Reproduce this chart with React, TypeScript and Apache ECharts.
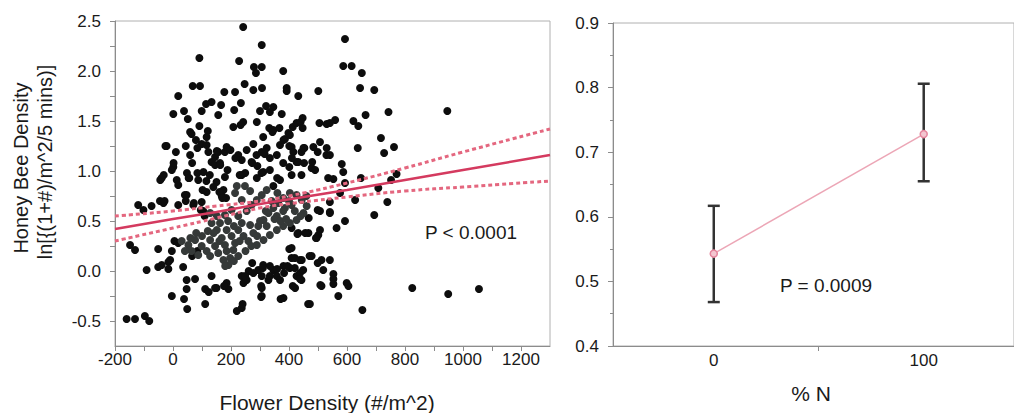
import React, { useEffect, useRef } from "react";
import * as echarts from "echarts";

const FONT = '"Liberation Sans", Arial, Helvetica, sans-serif';
const TXT = "#1a1a1a";
const AX = "#8c8c8c";

// ---------- left panel: Flower density vs honey bee density ----------
const flowerTickLabels = [-200, 0, 200, 400, 600, 800, 1000, 1200];
const flowerTicks = [-200, -100, 0, 100, 200, 300, 400, 500, 600, 700, 800, 900, 1000, 1100, 1200];
const beeTickLabels = [-0.5, 0, 0.5, 1, 1.5, 2, 2.5];
const beeTicks = [-0.5, -0.25, 0, 0.25, 0.5, 0.75, 1, 1.25, 1.5, 1.75, 2, 2.25, 2.5];

const blackPoints: number[][] = [
  [242, 2.44], [306, 2.26], [91, 2.13], [228, 2.1], [279, 2.04], [306, 2.04], [286, 1.98], [380, 2.0],
  [68, 1.85], [93, 1.85], [247, 1.87], [277, 1.81], [307, 1.83], [392, 1.83], [392, 1.8], [501, 1.8],
  [18, 1.75], [177, 1.79], [214, 1.79], [234, 1.68], [133, 1.69], [114, 1.67], [166, 1.66], [432, 1.75],
  [1, 1.57], [38, 1.6], [51, 1.52], [99, 1.6], [156, 1.56], [211, 1.61], [321, 1.65], [346, 1.64],
  [334, 1.59], [300, 1.6], [375, 1.57], [289, 1.49], [242, 1.49], [233, 1.46], [208, 1.44], [91, 1.45],
  [59, 1.39], [64, 1.37], [79, 1.31], [120, 1.4], [116, 1.34], [332, 1.43], [346, 1.41], [367, 1.43],
  [343, 1.39], [386, 1.32], [398, 1.38], [413, 1.44], [426, 1.48], [447, 1.53], [440, 1.49], [447, 1.43],
  [311, 1.34], [505, 1.48], [530, 1.47], [-22, 1.25], [10, 1.19], [1, 1.04], [-4, 1.01], [59, 1.16],
  [84, 1.23], [99, 1.27], [116, 1.26], [122, 1.19], [133, 1.09], [145, 1.14], [156, 1.19], [145, 1.06],
  [162, 1.08], [179, 1.19], [185, 1.24], [225, 1.16], [237, 1.11], [254, 1.21], [277, 1.27], [271, 1.09],
  [288, 1.16], [306, 1.19], [323, 1.23], [334, 1.13], [358, 1.16], [369, 1.26], [381, 1.31], [403, 1.36],
  [409, 1.24], [415, 1.19], [426, 1.09], [443, 1.19], [453, 1.23], [484, 1.24], [507, 1.29], [530, 1.23],
  [478, 1.03], [490, 1.01], [-39, 0.93], [13, 0.91], [56, 0.93], [87, 0.91], [127, 0.96], [150, 0.89],
  [179, 0.94], [237, 0.96], [289, 0.93], [311, 0.99], [369, 0.91], [409, 0.96], [443, 0.96], [535, 0.93],
  [188, 1.01], [163, 1.06], [105, 0.99], [84, 0.98], [48, 0.98], [66, 1.08], [2, 1.08], [-44, 0.91],
  [-32, 0.96], [249, 0.98], [230, 0.96], [273, 1.08], [291, 1.05], [305, 0.98], [334, 1.01], [359, 0.93],
  [380, 1.08], [401, 1.04], [432, 1.09], [452, 1.08], [480, 1.09], [529, 1.16], [-26, 1.25], [44, 1.25],
  [151, 1.2], [198, 1.21], [215, 1.13], [316, 1.17], [401, 1.25], [410, 1.13], [450, 1.23], [499, 1.19],
  [18, 0.86], [47, 0.76], [116, 0.79], [174, 0.81], [168, 0.75], [183, 0.73], [346, 0.85], [-120, 0.66],
  [-102, 0.61], [-74, 0.65], [-45, 0.7], [-33, 0.68], [18, 0.66], [70, 0.66], [99, 0.69], [104, 0.6],
  [507, 0.6], [541, 0.58], [-148, 0.26], [-131, 0.21], [-51, 0.22], [-4, 0.2], [-10, 0.11], [-16, 0.09],
  [18, 0.28], [-91, 0.01], [-51, 0.04], [-39, 0.06], [-16, 0.02], [35, 0.04], [47, -0.09], [76, -0.08],
  [47, -0.18], [38, -0.28], [49, -0.38], [-4, -0.25], [111, -0.18], [123, -0.21], [133, -0.05], [150, -0.17],
  [179, -0.15], [191, -0.18], [185, -0.12], [111, -0.33], [220, -0.4], [237, -0.37], [240, -0.33], [237, -0.05],
  [243, -0.12], [254, -0.09], [277, -0.02], [294, 0.01], [306, -0.05], [311, 0.06], [329, -0.09], [346, 0.01],
  [358, -0.05], [369, -0.09], [381, 0.05], [403, 0.03], [409, 0.13], [409, 0.23], [426, -0.05], [443, -0.09],
  [438, -0.02], [449, 0.01], [438, 0.11], [478, 0.15], [512, 0.11], [495, 0.33], [501, 0.36], [518, 0.01],
  [512, -0.15], [472, -0.33], [421, -0.17], [381, -0.27], [306, -0.25], [306, -0.17], [432, 0.38], [467, 0.38],
  [507, 0.41], [409, 0.43], [-160, -0.48], [-131, -0.48], [-97, -0.45], [-82, -0.5], [66, 0.15], [84, 0.2],
  [5, 0.3], [145, -0.17], [176, -0.15], [304, -0.26], [304, -0.15], [334, 0.05], [371, -0.28], [359, 0.02],
  [383, -0.02], [413, -0.15], [401, 0.22], [438, -0.08], [466, -0.33], [471, 0.15], [499, 0.08], [508, -0.14],
  [261, 0.0], [273, 0.08], [249, -0.05], [334, -0.05], [310, 0.03], [395, 0.05], [420, 0.03], [444, 0.11],
  [420, 0.13], [72, 0.68], [41, 0.76], [96, 0.61], [109, 0.55], [-29, 0.7], [44, 0.7], [456, 0.38],
  [429, 0.37], [468, 0.53], [493, 0.33], [499, 0.61], [102, 0.81], [139, 0.84], [160, 0.79], [170, 0.73],
  [115, 0.9], [54, 0.93],
  [593, 2.32], [587, 2.05], [616, 2.05], [651, 1.98], [645, 1.83], [694, 1.81], [559, 1.51], [541, 1.48],
  [622, 1.5], [639, 1.45], [664, 1.56], [743, 1.59], [946, 1.6], [717, 1.33], [637, 1.23], [728, 1.18],
  [762, 1.24], [541, 1.16], [582, 1.07], [587, 0.99], [648, 0.93], [752, 0.91], [771, 0.97], [553, 0.92],
  [541, 0.69], [541, 0.59], [564, 0.43], [593, 0.5], [708, 0.83], [576, 0.78], [593, 0.88], [628, 0.71],
  [694, 0.56], [739, 0.69], [541, 0.11], [553, -0.03], [553, -0.08], [553, -0.13], [599, -0.12], [605, -0.15],
  [570, -0.25], [653, -0.39], [825, -0.17], [949, -0.23], [1055, -0.18],
];

const grayPoints: number[][] = [
  [30, 0.3], [53, 0.26], [76, 0.31], [99, 0.25], [116, 0.2], [128, 0.15], [87, 0.16], [64, 0.2],
  [41, 0.2], [133, 0.48], [151, 0.41], [168, 0.33], [179, 0.26], [185, 0.2], [197, 0.13], [191, 0.06],
  [174, 0.11], [156, 0.18], [145, 0.25], [128, 0.31], [162, 0.48], [185, 0.41], [202, 0.35], [214, 0.28],
  [208, 0.21], [225, 0.41], [243, 0.35], [260, 0.3], [277, 0.38], [294, 0.45], [312, 0.51], [329, 0.58],
  [346, 0.63], [363, 0.68], [380, 0.73], [403, 0.78], [426, 0.76], [444, 0.71], [461, 0.65], [450, 0.58],
  [426, 0.51], [403, 0.48], [380, 0.45], [358, 0.41], [334, 0.36], [312, 0.31], [289, 0.26], [237, 0.48],
  [254, 0.6], [271, 0.66], [289, 0.71], [306, 0.76], [323, 0.81], [237, 0.71], [214, 0.78], [220, 0.85],
  [248, 0.85], [266, 0.8], [386, 0.63], [409, 0.66], [358, 0.55], [323, 0.45], [266, 0.46], [225, 0.55],
  [202, 0.61], [179, 0.56], [151, 0.55], [128, 0.58],
  [140, 0.38], [160, 0.3], [190, 0.5], [210, 0.45], [230, 0.3], [250, 0.2], [270, 0.25], [290, 0.35],
  [300, 0.5], [320, 0.6], [340, 0.7], [360, 0.78], [380, 0.6], [400, 0.7], [420, 0.6], [440, 0.55],
  [460, 0.75], [350, 0.52], [370, 0.5], [390, 0.52], [100, 0.35], [80, 0.38], [60, 0.33], [120, 0.4],
  [210, 0.1], [225, 0.15], [180, 0.05],
];

// regression fit and 95% confidence band (read along x)
const fitX = [-200, 0, 150, 300, 450, 600, 800, 1000, 1300];
const fitLine = [0.42, 0.52, 0.59, 0.67, 0.74, 0.81, 0.91, 1.01, 1.16];
const fitUpper = [0.55, 0.6, 0.65, 0.7, 0.78, 0.88, 1.03, 1.19, 1.42];
const fitLower = [0.3, 0.43, 0.53, 0.63, 0.69, 0.74, 0.8, 0.84, 0.9];

// ---------- right panel: % N ----------
const nLevels = [0, 100];
const nMeans = [0.543, 0.728];
const nLow = [0.468, 0.655];
const nHigh = [0.617, 0.806];
const nTickLabels = [0, 100];
const nTicks = [50];

const zip = (xs: number[], ys: number[]) => xs.map((x, i) => [x, ys[i]]);

export default function App() {
  const ref = useRef<HTMLDivElement>(null);
  useEffect(() => {
    if (!ref.current) return;
    const chart = echarts.init(ref.current, undefined, { renderer: "svg" });
    const axisCommon = {
      axisLine: { show: true, onZero: false, lineStyle: { color: AX, width: 1 } },
      splitLine: { show: false },
    };
    const option: any = {
      animation: false,
      backgroundColor: "#ffffff",
      textStyle: { fontFamily: FONT },
      grid: [
        { left: 115, top: 21, width: 435, height: 325, show: true, borderColor: "#b0b0b0", borderWidth: 1 },
        { left: 613, top: 23, width: 403, height: 323, show: true, borderColor: "#b0b0b0", borderWidth: 1 },
      ],
      xAxis: [
        {
          type: "value", gridIndex: 0, min: -200, max: 1300, ...axisCommon,
          axisTick: { show: true, customValues: flowerTicks, length: 5, lineStyle: { color: AX } },
          axisLabel: {
            customValues: flowerTickLabels, margin: 5, fontSize: 17, color: TXT, fontFamily: FONT,
            formatter: (v: number) => String(v),
          },
        },
        {
          type: "value", gridIndex: 1, min: -48, max: 143, ...axisCommon,
          axisTick: { show: true, customValues: nTicks, length: 5, lineStyle: { color: AX } },
          axisLabel: {
            customValues: nTickLabels, margin: 6, fontSize: 17, color: TXT, fontFamily: FONT,
            formatter: (v: number) => String(v),
          },
        },
      ],
      yAxis: [
        {
          type: "value", gridIndex: 0, min: -0.75, max: 2.5, ...axisCommon,
          axisTick: { show: true, customValues: beeTicks, length: 5, lineStyle: { color: AX } },
          axisLabel: {
            customValues: beeTickLabels, margin: 14, fontSize: 17, color: TXT, fontFamily: FONT,
            formatter: (v: number) => v.toFixed(1),
          },
        },
        {
          type: "value", gridIndex: 1, min: 0.4, max: 0.9, interval: 0.1, ...axisCommon,
          axisTick: { show: true, length: 5, lineStyle: { color: AX } },
          minorTick: { show: true, splitNumber: 2, length: 3, lineStyle: { color: AX } },
          axisLabel: {
            margin: 14, fontSize: 17, color: TXT, fontFamily: FONT,
            formatter: (v: number) => v.toFixed(1),
          },
        },
      ],
      series: [
        {
          type: "scatter", xAxisIndex: 0, yAxisIndex: 0, data: blackPoints, symbolSize: 8,
          itemStyle: { color: "#0d0d0d", opacity: 1 }, silent: true, z: 2,
        },
        {
          type: "scatter", xAxisIndex: 0, yAxisIndex: 0, data: grayPoints, symbolSize: 8,
          itemStyle: { color: "#353938", opacity: 1 }, silent: true, z: 3,
        },
        {
          type: "line", xAxisIndex: 0, yAxisIndex: 0, data: zip(fitX, fitUpper), smooth: true,
          showSymbol: false, silent: true, z: 5,
          lineStyle: { color: "#e4677f", width: 3, type: [4, 3] },
        },
        {
          type: "line", xAxisIndex: 0, yAxisIndex: 0, data: zip(fitX, fitLower), smooth: true,
          showSymbol: false, silent: true, z: 5,
          lineStyle: { color: "#e4677f", width: 3, type: [4, 3] },
        },
        {
          type: "line", xAxisIndex: 0, yAxisIndex: 0, data: zip(fitX, fitLine),
          showSymbol: false, silent: true, z: 6,
          lineStyle: { color: "#d43a5f", width: 2.5 },
        },
        {
          type: "custom", xAxisIndex: 1, yAxisIndex: 1, silent: true, z: 4,
          data: nLevels.map((x, i) => [x, nLow[i], nHigh[i]]),
          renderItem: (params: any, api: any) => {
            const x = api.value(0);
            const lo = api.coord([x, api.value(1)]);
            const hi = api.coord([x, api.value(2)]);
            const w = 6;
            const st = { stroke: "#333333", lineWidth: 2.5 };
            return {
              type: "group",
              children: [
                { type: "line", shape: { x1: lo[0], y1: lo[1], x2: hi[0], y2: hi[1] }, style: st },
                { type: "line", shape: { x1: lo[0] - w, y1: lo[1], x2: lo[0] + w, y2: lo[1] }, style: st },
                { type: "line", shape: { x1: hi[0] - w, y1: hi[1], x2: hi[0] + w, y2: hi[1] }, style: st },
              ],
            };
          },
        },
        {
          type: "line", xAxisIndex: 1, yAxisIndex: 1, data: zip(nLevels, nMeans), silent: true, z: 5,
          symbol: "circle", symbolSize: 7, showSymbol: true,
          lineStyle: { color: "#eca6b6", width: 1.5 },
          itemStyle: { color: "#f3c6d0", borderColor: "#e5849c", borderWidth: 1.5 },
        },
      ],
      graphic: [
        {
          type: "text", x: 21, y: 168, rotation: Math.PI / 2,
          style: { text: "Honey Bee Density", font: `20px ${FONT}`, fill: TXT, align: "center", verticalAlign: "middle" },
        },
        {
          type: "text", x: 45, y: 162, rotation: Math.PI / 2,
          style: { text: "ln[{(1+#)/m^2/5 mins)]", font: `20px ${FONT}`, fill: TXT, align: "center", verticalAlign: "middle" },
        },
        {
          type: "text", x: 327, y: 402,
          style: { text: "Flower Density (#/m^2)", font: `21px ${FONT}`, fill: TXT, align: "center", verticalAlign: "middle" },
        },
        {
          type: "text", x: 811, y: 393,
          style: { text: "% N", font: `21px ${FONT}`, fill: TXT, align: "center", verticalAlign: "middle" },
        },
        {
          type: "text", x: 471, y: 232,
          style: { text: "P < 0.0001", font: `19px ${FONT}`, fill: TXT, align: "center", verticalAlign: "middle" },
        },
        {
          type: "text", x: 826, y: 285,
          style: { text: "P = 0.0009", font: `19px ${FONT}`, fill: TXT, align: "center", verticalAlign: "middle" },
        },
      ],
    };
    chart.setOption(option);
    return () => chart.dispose();
  }, []);
  return (
    <div
      ref={ref}
      style={{ position: "fixed", left: 0, top: 0, width: 1014, height: 413, background: "#fff" }}
    />
  );
}
